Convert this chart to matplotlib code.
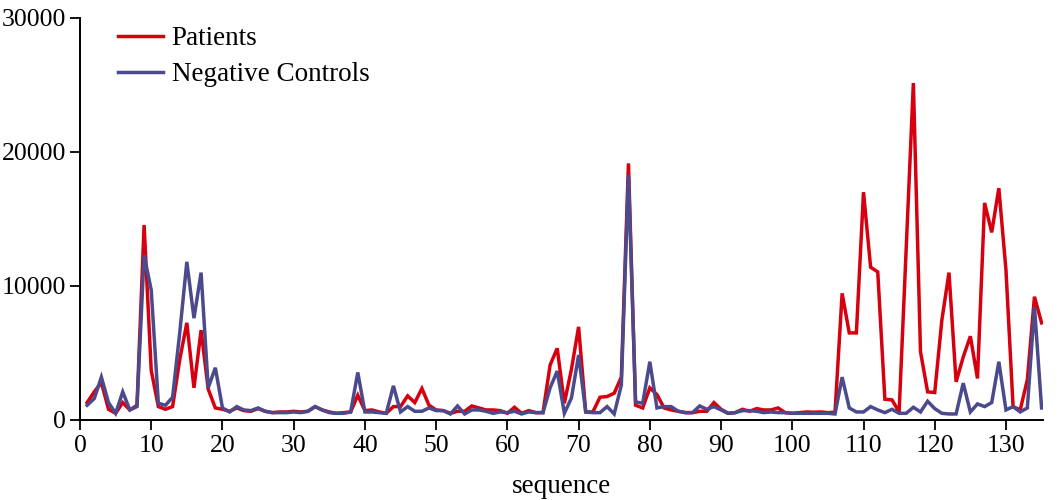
import matplotlib
matplotlib.use("Agg")
import matplotlib.pyplot as plt

sequence = list(range(1, 136))

patients = [
    1300, 2100, 2800, 800, 500, 1300, 750, 1100, 14550, 3700,
    1000, 800, 1000, 4500, 7250, 2400, 6700, 2300, 900, 800,
    650, 900, 700, 650, 850, 650, 550, 600, 600, 650,
    600, 650, 1000, 750, 600, 500, 550, 600, 1850, 700,
    750, 600, 500, 1000, 1000, 1800, 1300, 2350, 1100, 750,
    700, 500, 650, 650, 1050, 900, 750, 750, 700, 500,
    950, 500, 700, 550, 550, 4100, 5350, 1250, 3800, 6950,
    600, 600, 1700, 1750, 2000, 3200, 19150, 1100, 900, 2400,
    1900, 900, 750, 650, 550, 550, 650, 650, 1300, 800,
    500, 550, 800, 650, 850, 750, 750, 900, 550, 500,
    550, 600, 580, 600, 550, 580, 9450, 6500, 6500, 17000,
    11400, 11050, 1550, 1500, 600, 12800, 25150, 5100, 2100, 2050,
    7450, 11000, 2850, 4700, 6250, 3100, 16200, 14000, 17300, 11200,
    1000, 750, 3000, 9200, 7250,
]

controls = [
    1100, 1600, 3200, 1300, 500, 2100, 750, 1000, 12300, 9700,
    1250, 1100, 1700, 6500, 11800, 7600, 11000, 2400, 3900, 900,
    600, 1000, 750, 700, 900, 650, 550, 550, 550, 600,
    550, 650, 1000, 750, 550, 500, 500, 600, 3550, 600,
    600, 550, 500, 2550, 600, 1000, 650, 650, 900, 700,
    700, 450, 1050, 450, 750, 750, 650, 500, 600, 550,
    650, 450, 600, 550, 550, 2400, 3650, 500, 1650, 4850,
    600, 550, 550, 1000, 450, 2600, 18300, 1350, 1250, 4350,
    900, 1000, 1000, 650, 550, 550, 1050, 800, 1000, 750,
    500, 550, 700, 700, 650, 550, 600, 550, 550, 500,
    500, 500, 500, 500, 500, 450, 3200, 900, 600, 600,
    1000, 750, 550, 800, 500, 500, 950, 600, 1400, 850,
    500, 450, 450, 2750, 600, 1200, 1000, 1300, 4350, 750,
    1000, 600, 900, 8450, 900,
]

x_ticks = list(range(0, 131, 10))
y_ticks = [0, 10000, 20000, 30000]

plt.rcParams['font.family'] = ['Liberation Serif', 'DejaVu Serif']

fig = plt.figure(figsize=(10.6, 5.0), dpi=100)
ax = fig.add_axes([80 / 1060, 1 - 420 / 500, (1043 - 80) / 1060, (420 - 18) / 500])

ax.plot(sequence, patients, color='#d6000f', lw=2.5, label='Patients', solid_joinstyle='miter')
ax.plot(sequence, controls, color='#4a4a8c', lw=2.5, label='Negative Controls', solid_joinstyle='miter')

ax.set_xlim(0, 135.2)
ax.set_ylim(0, 30000)
ax.set_xticks(x_ticks)
ax.set_yticks(y_ticks)
ax.set_xticklabels([str(v) for v in x_ticks])
ax.set_yticklabels([str(v) for v in y_ticks])

for s in ['top', 'right']:
    ax.spines[s].set_visible(False)
for s in ['left', 'bottom']:
    ax.spines[s].set_linewidth(1.4)
    ax.spines[s].set_color('black')

ax.tick_params(axis='both', direction='out', length=7, width=1.3, labelsize=18.5, colors='black')
ax.tick_params(axis='x', pad=4)
ax.tick_params(axis='y', pad=3)

ax.set_xlabel('sequence', fontsize=19.5, labelpad=12)

leg = ax.legend(loc='upper left', bbox_to_anchor=(118 / 1060, 1 - 26 / 500),
                bbox_transform=fig.transFigure, frameon=False, fontsize=19.5,
                handlelength=1.65, handletextpad=0.33, labelspacing=0.42,
                borderpad=0, borderaxespad=0)

fig.savefig('out.png', dpi=100)
